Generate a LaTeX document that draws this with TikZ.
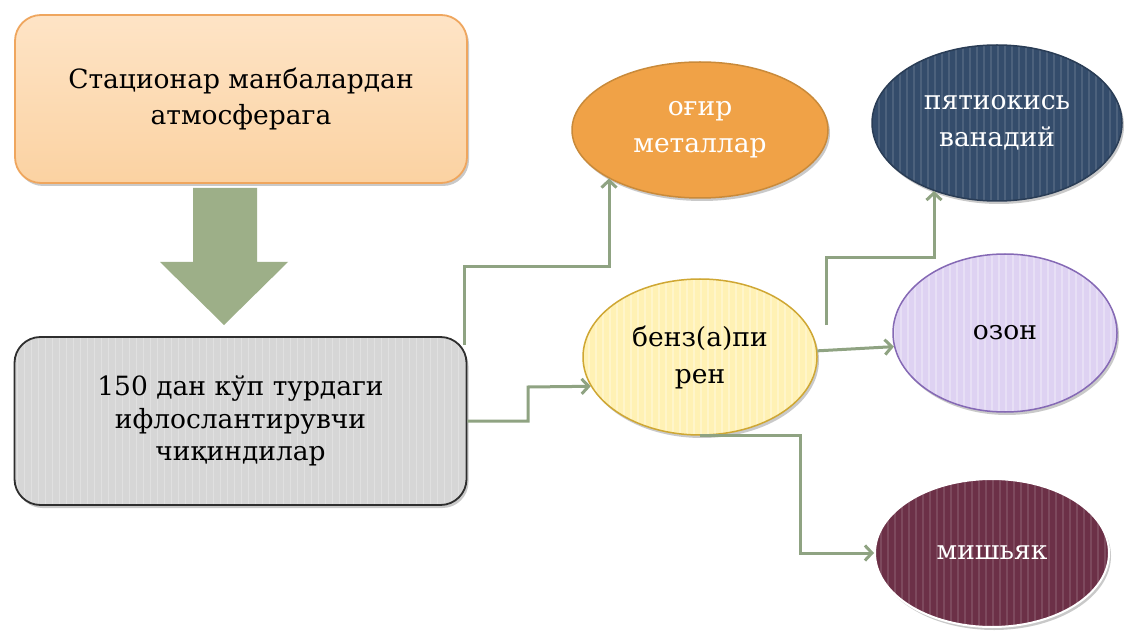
\documentclass[tikz,border=0pt]{standalone}
\usepackage{fontspec}
\setmainfont{DejaVu Serif}
\usetikzlibrary{shapes.geometric,arrows.meta,shadows,calc}
\definecolor{peachA}{HTML}{FEE4C6}
\definecolor{peachB}{HTML}{FBD2A2}
\definecolor{peachD}{HTML}{EFA65E}
\definecolor{grayF}{HTML}{D6D6D6}
\definecolor{grayD}{HTML}{2E2E2E}
\definecolor{conn}{HTML}{8FA382}
\definecolor{arrowG}{HTML}{9DAF88}
\definecolor{orangeF}{HTML}{F0A247}
\definecolor{orangeD}{HTML}{C98A3A}
\definecolor{navyF}{HTML}{344C6B}
\definecolor{yellowF}{HTML}{FFF1B4}
\definecolor{yellowD}{HTML}{CFA733}
\definecolor{purpleF}{HTML}{DED2F2}
\definecolor{purpleD}{HTML}{8569B5}
\definecolor{maroonF}{HTML}{6C3047}
\tikzset{
  stripes/.style={path picture={
    \foreach \i in {-300,-293,...,300}{
      \draw[white,opacity=#1,line width=1.2pt] ([xshift=\i pt]path picture bounding box.north) -- ([xshift=\i pt]path picture bounding box.south);}}},
  shad/.style={drop shadow={shadow xshift=2pt,shadow yshift=-3pt,opacity=0.35,fill=black!60}},
  boxstyle/.style={rectangle,rounded corners=26pt,minimum width=452pt,inner sep=0pt,
    align=center,line width=1.8pt,shad},
  ell/.style={ellipse,inner sep=0pt,align=center,line width=1.5pt,
    font=\fontsize{26.5}{37}\selectfont,shad},
  link/.style={draw=conn,line width=3pt,-{Straight Barb[length=7pt,width=15pt]}},
}
\begin{document}
\begin{tikzpicture}[x=1pt,y=-1pt]
\useasboundingbox[fill=white] (0,0) rectangle (1135,644);

\node[boxstyle,minimum height=168pt,draw=peachD,top color=peachA,bottom color=peachB,
  font=\fontsize{26.5}{36}\selectfont] (a) at (241,99)
  {Стационар манбалардан\\атмосферага};
\node[boxstyle,minimum height=168pt,draw=grayD,fill=grayF,stripes=0.25,
  font=\fontsize{26.5}{32.5}\selectfont] (b) at (240.5,421)
  {150 дан кўп турдаги\\ифлослантирувчи\\чиқиндилар};

% block arrow between a and b
\fill[arrowG] (193,188) -- (257,188) -- (257,262) -- (288,262) -- (224,325) -- (160,262) -- (193,262) -- cycle;

\node[ell,minimum width=256pt,minimum height=136pt,fill=orangeF,draw=orangeD,text=white] (o) at (700,130)
  {оғир\\металлар};
\node[ell,minimum width=250pt,minimum height=156pt,fill=navyF,draw=navyF!80!black,text=white,stripes=0.12] (n) at (997,123)
  {пятиокись\\ванадий};
\node[ell,minimum width=234pt,minimum height=156pt,fill=yellowF,draw=yellowD,stripes=0.3] (y) at (700,357)
  {бенз(а)пи\\рен};
\node[ell,minimum width=224pt,minimum height=158pt,fill=purpleF,draw=purpleD,stripes=0.3] (p) at (1005,333)
  {озон};
\node[ell,minimum width=234pt,minimum height=148pt,fill=maroonF,draw=white,line width=2pt,text=white,stripes=0.12] (m) at (992,553)
  {мишьяк};

% connectors
\coordinate (k1) at (609,267);
\coordinate (s1) at (464,345);
\draw[link] (s1) |- (k1) -- (k1 |- o.208);

\coordinate (k2) at (528,387);
\draw[link] (b.east) -| (k2) -- (y.195);

\coordinate (s3) at (826,325);
\coordinate (k3) at (934,258);
\draw[link] (s3) |- (k3) -- (k3 |- n.227);

\draw[link] (y.3) -- (p.187);

\coordinate (k4) at (800,433);
\draw[link] (y.south) -| (k4 |- m.west) -- (m.west);
\end{tikzpicture}
\end{document}
